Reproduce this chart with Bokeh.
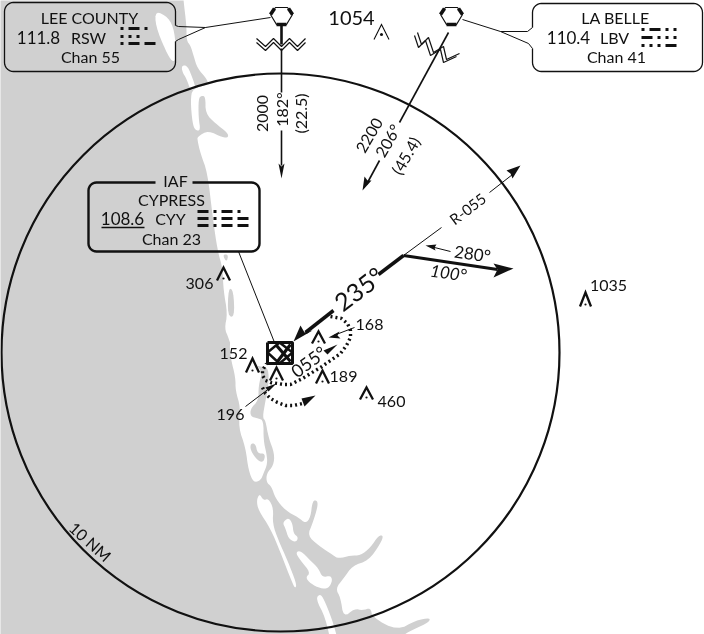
import numpy as np
from bokeh.plotting import figure
from bokeh.models import Range1d
from bokeh.embed import file_html
from bokeh.resources import INLINE
from bokeh.core.properties import value

W, H = 704, 634
FONT = "Lato"
GREY = "#d0d0d0"
INK = "#111111"

# --- geography (in picture pixels) ---
water = [(183,-5),(183,0),(186,25),(186,40),(190,45),(193,55),(197,68),(206,78),(208,84),(192,88),(190,100),(192,123),
         (195,130),(200,130),(198,117),(198,98),(201,95),(205,96),(205,113),(215,123),(227,132),(228,137),(222,137),
         (208,130),(197,136),(197,140),(200,153),(207,172),(212,215),(217,250),(222,267),(223,290),(227,313),(224,328),
         (228,337),(236,362),(262,366),(268,368),(268,385),(265,400),(262,417),(265,420),(268,437),(274,453),(273,465),
         (266,473),(266,482),(271,486),(275,498),(285,510),(298,517),(305,523),(310,517),(312,500),(317,500),(317,507),
         (312,523),(307,535),(318,545),(333,555),(338,558),(350,555),(360,555),(370,547),(378,535),(383,535),(380,543),
         (368,560),(352,565),(343,578),(335,588),(340,597),(343,617),(354,608),(362,610),(370,607),(372,617),(397,630),
         (415,620),(430,617),(428,622),(415,628),(403,634),(395,645)]
water_corners = [(-10,645),(-10,-5)]
islands = [
    [(155,10),(168,17),(174,30),(176,58),(172,62),(165,50),(155,25)],
    [(181,65),(187,65),(193,80),(195,88),(190,90),(186,78),(182,72)],
    [(229,340),(230,357),(235,377),(235,390),(240,407),(238,427),(245,447),(248,470),(253,482),(260,480),(263,473),
     (267,463),(266,453),(263,440),(263,420),(258,418),(250,416),(250,408),(258,400),(258,385),(262,370),(250,360),(234,345)],
    [(259,493),(263,500),(268,498),(273,508),(272,523),(278,540),(287,560),(296,583),(295,588),(292,583),(280,552),
     (270,528),(258,510),(256,500)],
    [(282,522),(288,517),(292,523),(293,533),(298,537),(295,542),(288,538),(285,528)],
    [(295,552),(300,550),(310,560),(318,568),(322,577),(330,575),(332,580),(328,588),(320,588),(310,583),(305,577),
     (310,572),(300,560)],
    [(315,598),(320,593),(325,602),(333,623),(340,650),(332,650),(325,617)],
]
inlets = [
    [(250,443),(255,443),(257,453),(265,453),(263,462),(257,460),(250,450)],
    [(228,287),(233,290),(234,317),(227,315)],
    [(222,254),(228,254),(226,262)],
]

# --- range ring ---
ring_x, ring_y, ring_r = [280], [352], [279]

# --- obstacles: apex x, apex y, half width, height ---
obst_x = [223, 318, 252, 276, 322, 366, 585]
obst_y = [267, 331, 358, 367, 370, 387, 292]
obst_w = [6.5, 6.5, 6.5, 6.5, 6.5, 6.5, 5.5]
obst_h = [13, 12, 14, 13, 13, 12, 14]
spot_x, spot_y, spot_w, spot_h = [381], [24], [7.5], [15]

# --- texts: label, x, y, size, angle in degrees, style ---
labels = [
    ("LEE COUNTY", 89, 17, 16, 0, "normal"),
    ("111.8", 38, 37, 17, 0, "normal"),
    ("RSW", 88, 37, 16, 0, "normal"),
    ("Chan 55", 90, 56, 16, 0, "normal"),
    ("LA BELLE", 615, 17, 16, 0, "normal"),
    ("110.4", 568, 37, 17, 0, "normal"),
    ("LBV", 614, 37, 16, 0, "normal"),
    ("Chan 41", 616, 56, 16, 0, "normal"),
    ("IAF", 175, 180, 16, 0, "normal"),
    ("CYPRESS", 171, 199, 16, 0, "normal"),
    ("108.6", 122, 218, 17, 0, "normal"),
    ("CYY", 170, 218, 16, 0, "normal"),
    ("Chan 23", 171, 238, 16, 0, "normal"),
    ("1054", 351, 17, 20, 0, "normal"),
    ("2000", 262, 113, 16, 90, "normal"),
    ("182°", 281, 109, 16, 90, "normal"),
    ("(22.5)", 300, 113, 16, 90, "normal"),
    ("2200", 369, 135, 16, 60, "normal"),
    ("206°", 387, 140, 16, 60, "normal"),
    ("(45.4)", 405, 155, 16, 60, "normal"),
    ("R-055", 467, 208, 15, 37, "normal"),
    ("235°", 358, 288, 25, 37, "normal"),
    ("280°", 472, 253, 17, -8, "normal"),
    ("100°", 448, 272, 17, -8, "italic"),
    ("168", 369, 324, 16, 0, "normal"),
    ("152", 233, 353, 16, 0, "normal"),
    ("306", 199, 283, 16, 0, "normal"),
    ("460", 391, 401, 16, 0, "normal"),
    ("189", 343, 376, 16, 0, "normal"),
    ("196", 230, 414, 16, 0, "normal"),
    ("1035", 608, 285, 16, 0, "normal"),
    ("055°", 308, 361, 18, 37, "normal"),
    ("10 NM", 90, 541, 16, -42, "normal"),
]

# --- morse identifiers: rows, start x, row ys ---
morse_codes = [
    ([".-.", "...", ".--"], 120, [28, 36, 43]),
    ([".-..", "-...", "...-"], 641, [29, 37, 45]),
    (["-.-.", "-.--", "-.--"], 197, [211, 218, 225]),
]

# --- lines: width, points ---
thin_lines = [
    (1.0, [(238,251),(274,342)]),
    (1.0, [(403,255),(441,227)]),
    (1.0, [(489,192),(512,174)]),
    (1.0, [(450,251),(430,246)]),
    (1.0, [(354,327),(333,335)]),
    (1.0, [(245,406),(270,387)]),
    (1.0, [(175,25),(178,26),(205,27),(270,17)]),
    (1.0, [(175,41),(178,39),(205,27)]),
    (1.0, [(462,19),(500,31),(527,31),(532,27)]),
    (1.0, [(500,31),(528,43),(532,48)]),
    (1.6, [(281,48),(281,92)]),
    (1.6, [(281,130),(281,165)]),
    (1.6, [(448,32),(399,122)]),
    (1.6, [(379,160),(366,184)]),
    (1.2, [(256,38),(265,46),(273,38),(281,46),(289,38),(297,46),(305,38)]),
    (1.2, [(256,42),(265,50),(273,42),(281,50),(289,42),(297,50),(305,42)]),
    (1.2, [(417,32),(421,44),(428,37),(433,52),(443,46),(446,59),(459,53)]),
    (1.2, [(414,35),(418,47),(425,40),(430,55),(440,49),(443,62),(456,56)]),
    (2.6, [(281,24),(281,44)]),
    (3.5, [(403,255),(378,274)]),
    (3.5, [(333,310),(305,332)]),
    (3.0, [(403,255),(497,269)]),
    (1.6, [(101,227),(144,227)]),
]
heads = [
    [(281,178),(278,163),(281,166),(284,163)],
    [(362,190),(364,176),(367,180),(371,180)],
    [(293,341),(300,325),(304,332),(312,330)],
    [(513,268),(493,263),(497,269),(493,277)],
    [(520,165),(506,170),(510,173),(512,178)],
    [(425,245),(436,244),(434,247),(435,250)],
    [(328,337),(339,331),(337,335),(340,338)],
    [(276,383),(265,387),(268,391)],
    [(337,344),(323,350),(327,354)],
    [(315,395),(301,398),(304,406)],
]
proc_turn_out = [(330,316),(341,318),(347,323),(350,330),(350,337),(346,345),(340,353),(330,360),(320,367),(310,373),
                 (302,378),(296,381),(290,384),(283,384),(277,383),(270,382),(265,380),(262,375),(262,370),(266,363)]
proc_turn_back = [(262,387),(265,393),(270,398),(277,402),(285,405),(293,405),(302,403)]

# --- navaid and fix symbols ---
vor_x = [281, 451]
vor_y = [16, 16]
box_square = [(267,342),(292,342),(292,363),(267,363),(267,342)]
box_diamond = [(279,342),(292,352),(279,363),(267,352),(279,342)]
box_cross = [[(276,345),(290,361)], [(290,344),(277,361)]]


def rounded(x0, y0, x1, y1, r, start):
    """Outline of a rounded box, walked clockwise on screen from a corner index."""
    t = np.linspace(0, np.pi / 2, 8)
    corners = [(x1 - r, y0 + r, -np.pi / 2), (x1 - r, y1 - r, 0), (x0 + r, y1 - r, np.pi / 2), (x0 + r, y0 + r, np.pi)]
    pts = []
    for i in range(4):
        cx, cy, a = corners[(start + i) % 4]
        pts += [(cx + r * np.cos(a + s), cy + r * np.sin(a + s)) for s in t]
    return pts


def rounded_shore(pts, passes=2, closed=True):
    """Corner cutting, so that the read-off shoreline is not angular."""
    for _ in range(passes):
        pairs = zip(pts, pts[1:] + pts[:1]) if closed else zip(pts, pts[1:])
        out = []
        for (ax, ay), (bx, by) in pairs:
            out += [(0.75 * ax + 0.25 * bx, 0.75 * ay + 0.25 * by), (0.25 * ax + 0.75 * bx, 0.25 * ay + 0.75 * by)]
        pts = out if closed else [pts[0]] + out + [pts[-1]]
    return pts


p = figure(width=W, height=H, output_backend="svg", toolbar_location=None,
           x_range=Range1d(0, W), y_range=Range1d(H, 0),
           min_border=0, outline_line_color=None, background_fill_color="white", border_fill_color="white")
p.axis.visible = False
p.grid.visible = False
p.styles = {"position": "fixed", "left": "0px", "top": "0px"}


def xs(pts):
    return [a for a, _ in pts]


def ys(pts):
    return [b for _, b in pts]


shore = rounded_shore(water, closed=False) + water_corners
isl = [rounded_shore(i) for i in islands]
inl = [rounded_shore(i) for i in inlets]
p.patch(xs(shore), ys(shore), fill_color=GREY, line_color=None)
p.patches([xs(i) for i in isl], [ys(i) for i in isl], fill_color="white", line_color=None)
p.patches([xs(i) for i in inl], [ys(i) for i in inl], fill_color=GREY, line_color=None)

p.circle(ring_x, ring_y, radius=ring_r, fill_color=None, line_color=INK, line_width=2.2)

for lw, pts in thin_lines:
    p.line(xs(pts), ys(pts), line_color=INK, line_width=lw)
p.patches([xs(h) for h in heads], [ys(h) for h in heads], fill_color=INK, line_color=None)

p.line(xs(proc_turn_out), ys(proc_turn_out), line_color=INK, line_width=3.4, line_dash="2 3")
p.line(xs(proc_turn_back), ys(proc_turn_back), line_color=INK, line_width=3.4, line_dash="2 3")

# information boxes, open where the leaders and the IAF label meet them
lee_pts = [(175, 41)] + rounded(4, 2, 175, 71, 9, 1) + [(175, 25)]
p.line(xs(lee_pts), ys(lee_pts), line_color=INK, line_width=1.3)

lab_pts = [(532, 27)] + rounded(532, 3, 702, 71, 9, 3) + [(532, 48)]
p.line(xs(lab_pts), ys(lab_pts), line_color=INK, line_width=1.3)

cyp_pts = [(192, 182)] + rounded(88, 182, 259, 251, 8, 0) + [(155, 182)]
p.line(xs(cyp_pts), ys(cyp_pts), line_color=INK, line_width=2.4)

# VOR/DME symbols
for cx, cy in zip(vor_x, vor_y):
    hexa = [(-11,-2),(-6,-9),(6,-9),(11,-2),(5,8),(-5,8),(-11,-2)]
    p.line([cx + a for a, _ in hexa], [cy + b for _, b in hexa], line_color=INK, line_width=1.2)
    for seg in ([(-11,-2),(-7,-8)], [(11,-2),(7,-8)], [(-5,8),(5,8)]):
        p.line([cx + a for a, _ in seg], [cy + b for _, b in seg], line_color=INK, line_width=3.6)

# fix symbol
p.line(xs(box_square), ys(box_square), line_color=INK, line_width=3)
p.line(xs(box_diamond), ys(box_diamond), line_color=INK, line_width=2.4)
p.multi_line([xs(c) for c in box_cross], [ys(c) for c in box_cross], line_color=INK, line_width=3.2)

# obstacles
p.multi_line([[x - w, x, x + w] for x, w in zip(obst_x, obst_w)],
             [[y + h, y, y + h] for y, h in zip(obst_y, obst_h)],
             line_color=INK, line_width=2.3, line_join="miter")
p.circle(obst_x, [y + h - 2 for y, h in zip(obst_y, obst_h)], radius=1.1, fill_color=INK, line_color=None)
p.multi_line([[x - w, x, x + w] for x, w in zip(spot_x, spot_w)],
             [[y + h, y, y + h] for y, h in zip(spot_y, spot_h)],
             line_color=INK, line_width=1.1, line_join="miter")
p.circle(spot_x, [y + h - 5 for y, h in zip(spot_y, spot_h)], radius=1.5, fill_color=INK, line_color=None)

# morse
for rows, x0, row_ys in morse_codes:
    for code, yy in zip(rows, row_ys):
        x = x0
        for ch in code:
            span = 11 if ch == "-" else 3
            p.quad(left=[x], right=[x + span], top=[yy - 1.4], bottom=[yy + 1.4], fill_color=INK, line_color=None)
            x += span + 5

# texts
for t, x, y, size, ang, style in labels:
    p.text([x], [y], text=[t], text_font=value(FONT), text_font_size=f"{size}px", text_font_style=style,
           text_color=INK, text_align="center", text_baseline="middle", angle=[np.radians(ang)])

open("out.html", "w").write(file_html(p, INLINE))
